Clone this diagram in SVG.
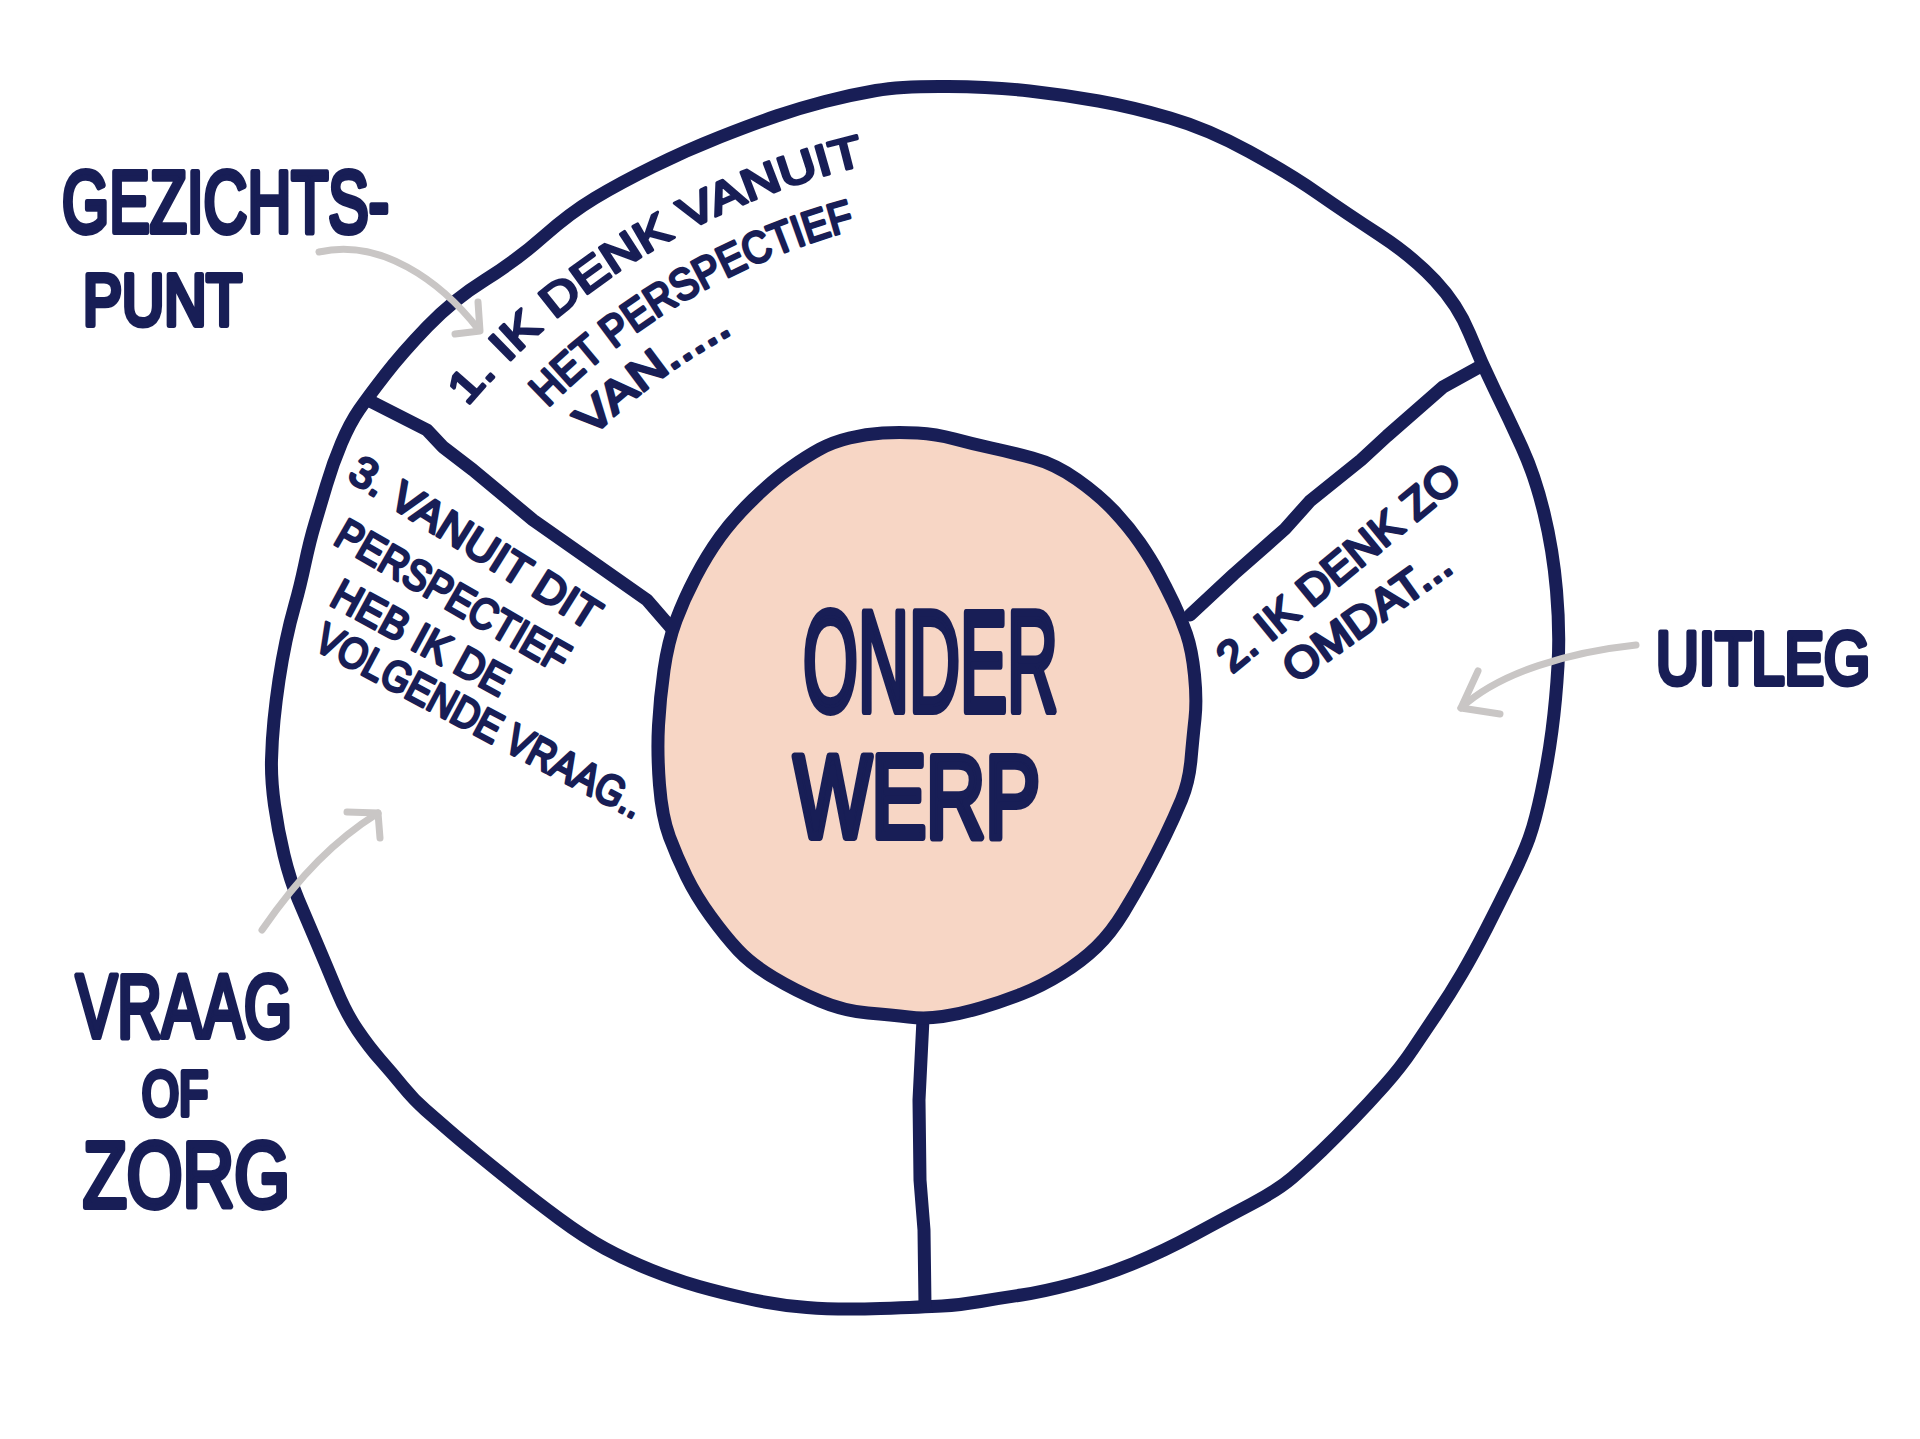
<svg xmlns="http://www.w3.org/2000/svg" width="1920" height="1439" viewBox="0 0 1920 1439">
<style>
.ink{fill:none;stroke:#181E56;stroke-width:13;stroke-linecap:round;stroke-linejoin:round}
.arrow{fill:none;stroke:#C9C6C5;stroke-width:7;stroke-linecap:round;stroke-linejoin:round}
.hand{font-family:"Liberation Sans",Arial,sans-serif;fill:#181E56;stroke:#181E56;stroke-linejoin:round;stroke-linecap:round}
.big{stroke-width:6}
.huge{stroke-width:8}
.small{stroke-width:3}
</style>
<defs>
<path id="arc1" d="M467.5,406.4 A740,740 0 0 1 928,153.2"/>
<path id="arc2" d="M547.7,407.7 A680,680 0 0 1 936.4,212.6"/>
<path id="arc3" d="M591.6,437.3 A628,628 0 0 1 816.2,295.9"/>
</defs>
<rect width="1920" height="1439" fill="#ffffff"/>

<g id="outer-ring">
<path class="ink" d="M876,90.5 Q902,86 948,86.5 Q994,87 1029.5,91 Q1065,95 1098.5,101 Q1132,107 1170,118 Q1208,129 1249,151.5 Q1290,174 1318,193.5 Q1346,213 1379,234.5 Q1412,256 1435,280.5 Q1458,305 1469.5,333.5 Q1481,362 1495,390.5 Q1509,419 1522,447.5 Q1535,476 1544,513 Q1553,550 1556.5,590.5 Q1560,631 1558,665.5 Q1556,700 1552,730.5 Q1548,761 1541.5,791.5 Q1535,822 1529,838.5 Q1523,855 1511,879.5 Q1499,904 1486.5,928.5 Q1474,953 1462,973.5 Q1450,994 1437.5,1012.5 Q1425,1031 1413,1049 Q1401,1067 1384.5,1085.5 Q1368,1104 1352,1120.5 Q1336,1137 1321.5,1151 Q1307,1165 1292.5,1177.5 Q1278,1190 1251.5,1204 Q1225,1218 1194.5,1234.5 Q1164,1251 1133.5,1263.5 Q1103,1276 1072.5,1284 Q1042,1292 1021.5,1295 Q1001,1298 980.5,1301.5 Q960,1305 942,1306 Q924,1307 880.5,1308.5 Q837,1310 807,1307.5 Q777,1305 749.5,1299 Q722,1293 699,1286.5 Q676,1280 651,1270 Q626,1260 605,1248.5 Q584,1237 559,1218.5 Q534,1200 513.5,1183.5 Q493,1167 476.5,1153.5 Q460,1140 448.5,1130 Q437,1120 425.5,1110 Q414,1100 403,1086.5 Q392,1073 380.5,1060 Q369,1047 357.5,1030 Q346,1013 336.5,990 Q327,967 317,943.5 Q307,920 298.5,900 Q290,880 284,855 Q278,830 274.5,805 Q271,780 271.5,760 Q272,740 274,720 Q276,700 279,680 Q282,660 286,641 Q290,622 295,604.5 Q300,587 305,563.5 Q310,540 315,523.5 Q320,507 326.5,485 Q333,463 341.5,443 Q350,423 359,410 Q368,397 385,375 Q402,353 427.5,326.5 Q453,300 485,280 Q517,260 543.5,236.5 Q570,213 595,198 Q620,183 653.5,166.5 Q687,150 720,137 Q753,124 776.5,116 Q800,108 825,101.5 Q850,95 876,90.5 Z"/>
</g>

<g id="connectors">
<path class="ink" stroke-width="12" d="M368,400 L427,430 L443,447 L473,470 L533,520 L600,567 L647,600 L673,630"/>
<path class="ink" stroke-width="12" d="M1481,366 L1443,387 L1387,436 L1361,460 L1310,501 L1285,529 L1234,574 L1190,615"/>
<path class="ink" stroke-width="12" d="M923,1019 L919,1100 L920,1180 L924,1230 L925,1305"/>
<path class="arrow" d="M319,252 C380,238 440,280 479,330"/>
<path class="arrow" d="M455,334 L480,331 L478,302"/>
<path class="arrow" d="M1636,645 C1570,652 1500,672 1461,708"/>
<path class="arrow" d="M1478,671 L1461,708 L1500,714"/>
<path class="arrow" d="M262,930 C300,875 335,840 378,813"/>
<path class="arrow" d="M347,812 L378,813 L380,838"/>
</g>

<g id="center-node">
<path class="ink" style="fill:#F7D6C5" stroke-width="14" d="M882.5,433 Q899,432 917.5,433 Q936,434 954.5,439 Q973,444 991.5,448 Q1010,452 1032.5,458 Q1055,464 1077,479.5 Q1099,495 1114,511 Q1129,527 1140,543 Q1151,559 1158.5,573 Q1166,587 1173.5,602.5 Q1181,618 1186.5,634 Q1192,650 1194.5,675 Q1197,700 1195,718.5 Q1193,737 1191,759.5 Q1189,782 1181.5,800 Q1174,818 1165,836.5 Q1156,855 1146,873.5 Q1136,892 1123.5,912.5 Q1111,933 1096.5,947 Q1082,961 1062,973.5 Q1042,986 1021.5,994 Q1001,1002 980.5,1008 Q960,1014 942.5,1016.5 Q925,1019 908.5,1017 Q892,1015 868,1013 Q844,1011 820,1001 Q796,991 773.5,977.5 Q751,964 738,950 Q725,936 710.5,916 Q696,896 686.5,876.5 Q677,857 669.5,837 Q662,817 659.5,785 Q657,753 658.5,725.5 Q660,698 664,670 Q668,642 676,620.5 Q684,599 695.5,577 Q707,555 720,537 Q733,519 753,499.5 Q773,480 790,468 Q807,456 820,449 Q833,442 849.5,438 Q866,434 882.5,433 Z"/>
<text class="hand huge" x="803" y="711" font-size="142" textLength="255" lengthAdjust="spacingAndGlyphs">ONDER</text>
<text class="hand huge" x="794" y="837" font-size="117" textLength="246" lengthAdjust="spacingAndGlyphs">WERP</text>
</g>

<g id="segment-1-text">
<text class="hand small" font-size="44"><textPath href="#arc1" textLength="473" lengthAdjust="spacingAndGlyphs">1. IK DENK VANUIT</textPath></text>
<text class="hand small" font-size="44"><textPath href="#arc2" textLength="360" lengthAdjust="spacingAndGlyphs">HET PERSPECTIEF</textPath></text>
<text class="hand small" font-size="44"><textPath href="#arc3" textLength="176" lengthAdjust="spacingAndGlyphs">VAN.....</textPath></text>
</g>

<g id="segment-2-text">
<text class="hand small" font-size="43" transform="translate(1232,674) rotate(-39.5)" textLength="300" lengthAdjust="spacingAndGlyphs">2. IK DENK ZO</text>
<text class="hand small" font-size="43" transform="translate(1296,684) rotate(-35.5)" textLength="195" lengthAdjust="spacingAndGlyphs">OMDAT...</text>
</g>

<g id="segment-3-text">
<text class="hand small" font-size="43" transform="translate(346,479) rotate(32)" textLength="287" lengthAdjust="spacingAndGlyphs">3. VANUIT DIT</text>
<text class="hand small" font-size="43" transform="translate(332,543) rotate(30)" textLength="262" lengthAdjust="spacingAndGlyphs">PERSPECTIEF</text>
<text class="hand small" font-size="43" transform="translate(328,604) rotate(28.5)" textLength="195" lengthAdjust="spacingAndGlyphs">HEB IK DE</text>
<text class="hand small" font-size="43" transform="translate(312,648) rotate(28)" textLength="365" lengthAdjust="spacingAndGlyphs">VOLGENDE VRAAG..</text>
</g>

<g id="label-gezichtspunt">
<text class="hand big" x="62" y="232" font-size="88" textLength="327" lengthAdjust="spacingAndGlyphs">GEZICHTS-</text>
<text class="hand big" x="83" y="325" font-size="73" textLength="159" lengthAdjust="spacingAndGlyphs">PUNT</text>
</g>

<g id="label-uitleg">
<text class="hand big" x="1656" y="684" font-size="75" textLength="214" lengthAdjust="spacingAndGlyphs">UITLEG</text>
</g>

<g id="label-vraag-of-zorg">
<text class="hand big" x="76" y="1037" font-size="89" textLength="216" lengthAdjust="spacingAndGlyphs">VRAAG</text>
<text class="hand big" x="142" y="1115" font-size="63" textLength="66" lengthAdjust="spacingAndGlyphs">OF</text>
<text class="hand big" x="83" y="1207" font-size="92" textLength="207" lengthAdjust="spacingAndGlyphs">ZORG</text>
</g>
</svg>
